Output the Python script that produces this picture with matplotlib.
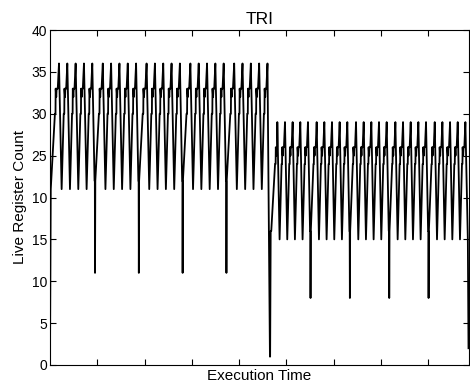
import matplotlib
matplotlib.use("Agg")
import matplotlib.pyplot as plt
import numpy as np

# ---- data (time units; 500 units per x tick) ----
# each segment: offsets from its start and live-register values at those offsets, plus its length
seg_S_dt = [0, 8, 52, 58, 60, 66, 70, 82]            # program start, rises to first peak
seg_S_val = [1, 21, 30, 30, 33, 32, 33, 33]
seg_S_len = 95
seg_A_dt = [0, 28, 50, 56, 58, 64, 68, 76]           # phase 1 normal tooth
seg_A_val = [36, 21, 30, 30, 33, 32, 33, 33]
seg_A_len = 88
seg_D_dt = [0, 24, 27, 29, 32, 70, 76, 78, 84, 88, 98]  # phase 1 tooth with deep dip
seg_D_val = [36, 22, 22, 11, 22, 30, 30, 33, 32, 33, 33]
seg_D_len = 111
seg_X_dt = [0, 26, 28, 34, 40, 80, 86, 88, 94, 98, 102]  # phase change drop
seg_X_val = [36, 1, 1, 16, 16, 24, 24, 26, 25, 26, 26]
seg_X_len = 104
seg_B_dt = [0, 24, 45, 50, 52, 58, 62, 70]           # phase 2 normal tooth
seg_B_val = [29, 15, 24, 24, 26, 25, 26, 26]
seg_B_len = 81
seg_E_dt = [0, 22, 25, 27, 30, 58, 62, 64, 70, 74, 82]  # phase 2 tooth with deep dip
seg_E_val = [29, 16, 16, 8, 16, 24, 24, 26, 25, 26, 26]
seg_E_len = 92
seg_Z_dt = [0, 26, 33]                               # end of program
seg_Z_val = [29, 15, 2]
seg_Z_len = 33

segment_order = "S AAAAD AAAAD AAAAD AAAAD AAAAX BBBBE BBBBE BBBBE BBBBE BBBBZ"

y_ticks = [0, 5, 10, 15, 20, 25, 30, 35, 40]
y_tick_labels = ["0", "5", "10", "15", "10", "25", "30", "35", "40"]
x_ticks = [500, 1000, 1500, 2000, 2500, 3000, 3500, 4000]

segments = {
    "S": (seg_S_dt, seg_S_val, seg_S_len),
    "A": (seg_A_dt, seg_A_val, seg_A_len),
    "D": (seg_D_dt, seg_D_val, seg_D_len),
    "X": (seg_X_dt, seg_X_val, seg_X_len),
    "B": (seg_B_dt, seg_B_val, seg_B_len),
    "E": (seg_E_dt, seg_E_val, seg_E_len),
    "Z": (seg_Z_dt, seg_Z_val, seg_Z_len),
}

t, v = [], []
t0 = 0
for key in segment_order.replace(" ", ""):
    dts, vals, length = segments[key]
    for dt, val in zip(dts, vals):
        t.append(t0 + dt)
        v.append(val)
    t0 += length

plt.rcParams["font.family"] = ["Liberation Sans", "DejaVu Sans"]

fig = plt.figure(figsize=(4.70, 3.87), dpi=100)
ax = fig.add_axes([50 / 470, 1 - 365 / 387, 418.5 / 470, 335 / 387])
ax.plot(t, v, color="black", linewidth=1.3)

ax.set_xlim(0, t0)
ax.set_ylim(0, 40)
ax.set_xticks(x_ticks)
ax.set_xticklabels([])
ax.set_yticks(y_ticks)
ax.set_yticklabels(y_tick_labels)
ax.tick_params(direction="in", length=4, width=0.8, labelsize=10,
               top=True, right=True, pad=2)
for s in ax.spines.values():
    s.set_linewidth(0.8)

ax.set_title("TRI", fontsize=12.5, pad=4)
ax.set_xlabel("Execution Time", fontsize=11, labelpad=1)
ax.set_ylabel("Live Register Count", fontsize=11, labelpad=3)

fig.savefig("out.png", dpi=100)
